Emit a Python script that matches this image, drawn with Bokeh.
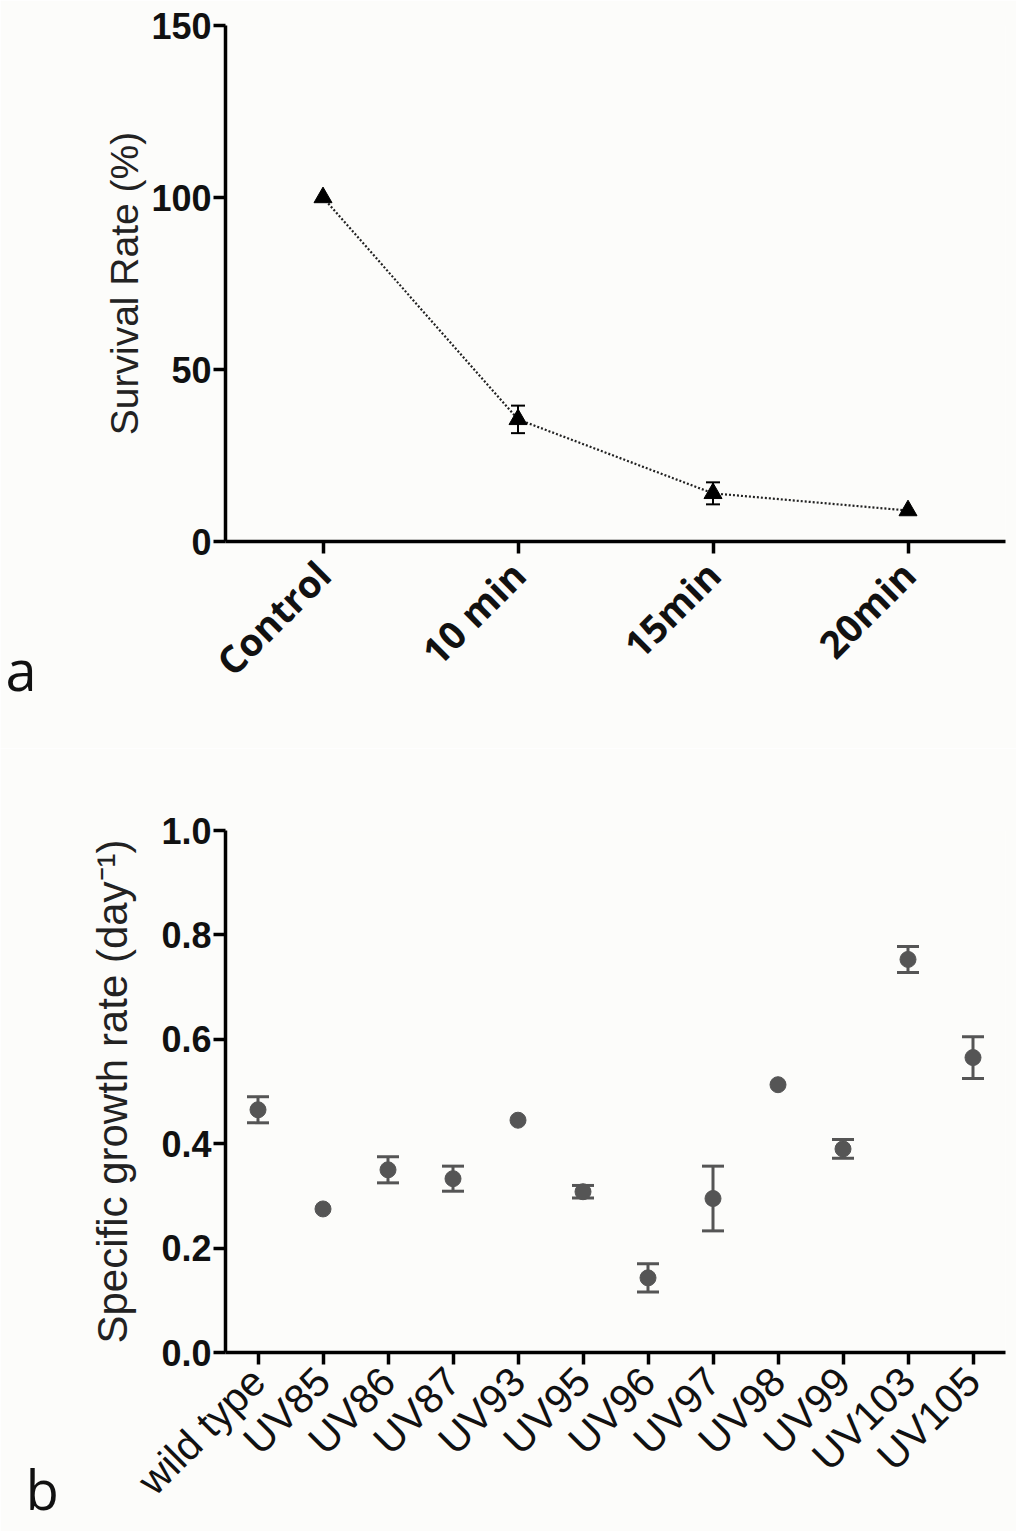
import math
from bokeh.plotting import figure
from bokeh.models import (ColumnDataSource, Whisker, TeeHead, FactorRange, Range1d,
                          FixedTicker, NumeralTickFormatter, Label)
from bokeh.layouts import column
from bokeh.embed import file_html
from bokeh.resources import INLINE

# ---- data: panel a ----
times = ["Control", "10 min", "15min", "20min"]
survival = [100.0, 35.5, 14.0, 9.0]
survival_err = [0.0, 4.0, 3.2, 0.0]
survival_ticks = [0, 50, 100, 150]

# ---- data: panel b ----
strains = ["wild type", "UV85", "UV86", "UV87", "UV93", "UV95", "UV96",
           "UV97", "UV98", "UV99", "UV103", "UV105"]
growth = [0.465, 0.275, 0.350, 0.333, 0.445, 0.308, 0.143, 0.295, 0.513,
          0.390, 0.753, 0.565]
growth_err = [0.025, 0.0, 0.025, 0.024, 0.0, 0.012, 0.027, 0.062, 0.0,
              0.018, 0.025, 0.040]
growth_ticks = [0.0, 0.2, 0.4, 0.6, 0.8, 1.0]

BG = "#fcfcfa"


def style_axes(p, ytick_size, ylabel_size, xtick_font, xtick_size, xtick_style):
    p.outline_line_color = None
    p.xgrid.visible = False
    p.ygrid.visible = False
    for ax in (p.xaxis, p.yaxis):
        ax.axis_line_width = 3.5
        ax.axis_line_color = "black"
        ax.major_tick_line_width = 3.5
        ax.major_tick_line_color = "black"
        ax.major_tick_in = 0
        ax.major_tick_out = 12
        ax.minor_tick_line_color = None
    p.yaxis.major_label_text_font = "Liberation Sans"
    p.yaxis.major_label_text_font_style = "bold"
    p.yaxis.major_label_text_font_size = ytick_size
    p.yaxis.major_label_text_color = "#111111"
    p.yaxis.major_label_standoff = 2
    p.yaxis.axis_label_text_font = "Liberation Sans"
    p.yaxis.axis_label_text_font_style = "normal"
    p.yaxis.axis_label_text_font_size = ylabel_size
    p.yaxis.axis_label_text_color = "#222222"
    p.xaxis.major_label_text_font = xtick_font
    p.xaxis.major_label_text_font_style = xtick_style
    p.xaxis.major_label_text_font_size = xtick_size
    p.xaxis.major_label_text_color = "#111111"
    p.xaxis.major_label_orientation = math.pi / 4
    p.xaxis.axis_label = None


# ---------------- panel a ----------------
pa = figure(width=1016, height=748, output_backend="svg", toolbar_location=None,
            x_range=FactorRange(*times, range_padding=0),
            y_range=Range1d(0, 150),
            min_border_left=222, min_border_right=11, min_border_top=25,
            min_border_bottom=207,
            background_fill_color=BG, border_fill_color=BG)
style_axes(pa, "36px", "39px", "Open Sans", "38px", "bold")
pa.yaxis.ticker = FixedTicker(ticks=survival_ticks)
pa.yaxis.axis_label = "Survival Rate (%)"
pa.yaxis.axis_label_standoff = 2
pa.xaxis.major_label_standoff = 14

src_a = ColumnDataSource(dict(x=times, y=survival))
pa.line("x", "y", source=src_a, line_color="#222222", line_width=2.2,
        line_dash="2 2")
wa_x = [t for t, e in zip(times, survival_err) if e > 0]
wa_up = [v + e for v, e in zip(survival, survival_err) if e > 0]
wa_lo = [v - e for v, e in zip(survival, survival_err) if e > 0]
src_wa = ColumnDataSource(dict(x=wa_x, upper=wa_up, lower=wa_lo))
pa.add_layout(Whisker(source=src_wa, base="x", upper="upper", lower="lower",
                      dimension="height", line_color="black", line_width=2,
                      upper_head=TeeHead(size=14, line_width=2, line_color="black"),
                      lower_head=TeeHead(size=14, line_width=2, line_color="black")))
pa.scatter("x", "y", source=src_a, marker="triangle", size=18,
           fill_color="black", line_color="black")
# panel letter, placed in a side panel so that it is not clipped to the frame
pa.add_layout(Label(x=-1.128, y=-37.2, text="a", text_font="Open Sans",
                    text_font_size="56px", text_baseline="alphabetic",
                    text_color="#111111"), "left")

# ---------------- panel b ----------------
pb = figure(width=1016, height=783, output_backend="svg", toolbar_location=None,
            x_range=FactorRange(*strains, range_padding=0),
            y_range=Range1d(0, 1.0),
            min_border_left=225, min_border_right=11, min_border_top=82,
            min_border_bottom=179,
            background_fill_color=BG, border_fill_color=BG)
style_axes(pb, "36px", "42px", "Liberation Sans", "41px", "normal")
pb.yaxis.ticker = FixedTicker(ticks=growth_ticks)
pb.yaxis.formatter = NumeralTickFormatter(format="0.0")
pb.yaxis.axis_label = "Specific growth rate (day\u207b\u00b9)"
pb.yaxis.axis_label_standoff = 22
pb.xaxis.major_label_standoff = 10

wb_x = [s for s, e in zip(strains, growth_err) if e > 0]
wb_up = [v + e for v, e in zip(growth, growth_err) if e > 0]
wb_lo = [v - e for v, e in zip(growth, growth_err) if e > 0]
src_wb = ColumnDataSource(dict(x=wb_x, upper=wb_up, lower=wb_lo))
pb.add_layout(Whisker(source=src_wb, base="x", upper="upper", lower="lower",
                      dimension="height", line_color="#555555", line_width=3,
                      upper_head=TeeHead(size=22, line_width=3, line_color="#555555"),
                      lower_head=TeeHead(size=22, line_width=3, line_color="#555555")))
src_b = ColumnDataSource(dict(x=strains, y=growth))
pb.scatter("x", "y", source=src_b, marker="circle", size=16,
           fill_color="#555555", line_color="#555555")
pb.add_layout(Label(x=-3.075, y=-0.262, text="b", text_font="Open Sans",
                    text_font_size="54px", text_baseline="alphabetic",
                    text_color="#111111"), "left")

layout = column(pa, pb, spacing=0)
open("out.html", "w").write(file_html(layout, INLINE))
